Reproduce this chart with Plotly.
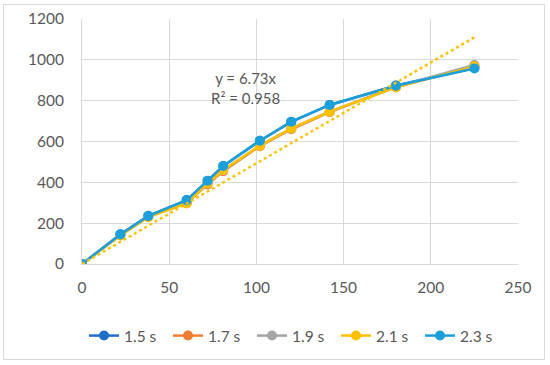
import plotly.graph_objects as go

x_vals = [0, 22, 38, 60, 72, 81, 102, 120, 142, 180, 225]
s15 = [0, 146, 236, 313, 407, 480, 604, 696, 779, 874, 960]
s17 = [0, 141, 231, 298, 390, 455, 577, 660, 744, 866, 970]
s19 = [0, 142, 232, 301, 394, 459, 580, 664, 746, 868, 975]
s21 = [0, 140, 230, 297, 395, 460, 579, 664, 746, 865, 968]
s23 = [0, 145, 235, 312, 408, 480, 604, 697, 779, 873, 958]
series_names = ["1.5 s", "1.7 s", "1.9 s", "2.1 s", "2.3 s"]
colors = ["#1F6FC8", "#ED7D31", "#A5A5A5", "#FFC000", "#1CA0DC"]
trend_x = [0, 225]
trend_y = [0, 1110]
x_ticks = [0, 50, 100, 150, 200, 250]
y_ticks = [0, 200, 400, 600, 800, 1000, 1200]

fig = go.Figure()
for name, ys, c in zip(series_names, [s15, s17, s19, s21, s23], colors):
    fig.add_trace(go.Scatter(x=x_vals, y=ys, name=name, mode="lines+markers",
                             line=dict(color=c, width=2.5),
                             marker=dict(color=c, size=10)))
fig.add_trace(go.Scatter(x=trend_x, y=trend_y, mode="lines", showlegend=False,
                         line=dict(color="#FFC000", width=2.5, dash="dot")))

fig.add_annotation(x=94, y=860, xref="x", yref="y", text="y = 6.73x<br>R² = 0.958",
                   showarrow=False, align="center",
                   font=dict(family="Lato", size=15, color="#595959"))

W, H = 550, 365
l, r, t, b = 82, 32, 19, 101
pw, ph = W - l - r, H - t - b
def px(v): return (v - l) / pw
def py(v): return (H - b - v) / ph
fig.add_shape(type="rect", xref="paper", yref="paper",
              x0=px(3.5), x1=px(544.5), y0=py(359.5), y1=py(4.5),
              line=dict(color="#D9D9D9", width=1), fillcolor="rgba(0,0,0,0)", layer="below")

fig.update_layout(
    width=W, height=H, margin=dict(l=l, r=r, t=t, b=b, autoexpand=False),
    plot_bgcolor="white", paper_bgcolor="white",
    font=dict(family="Lato", size=15, color="#595959"),
    xaxis=dict(range=[0, 250], tickvals=x_ticks, showgrid=True, gridcolor="#D9D9D9",
               zeroline=False, showline=True, linecolor="#D9D9D9", ticks="",
               automargin=False, ticklabelstandoff=9,
               tickfont=dict(size=15.5, color="#595959")),
    yaxis=dict(range=[0, 1200], tickvals=y_ticks, showgrid=True, gridcolor="#D9D9D9",
               zeroline=False, showline=True, linecolor="#D9D9D9", ticks="",
               automargin=False, ticklabelstandoff=14,
               tickfont=dict(size=15.5, color="#595959")),
    legend=dict(orientation="h", x=px(84), xanchor="left", y=py(336), yanchor="middle",
                font=dict(size=15.5, color="#595959"), entrywidth=39, entrywidthmode="pixels",
                itemwidth=30, tracegroupgap=0),
    showlegend=True,
)
fig.write_html("out.html", config={"displayModeBar": False},
               post_script="document.body.style.margin='0';document.body.style.overflow='hidden';")
